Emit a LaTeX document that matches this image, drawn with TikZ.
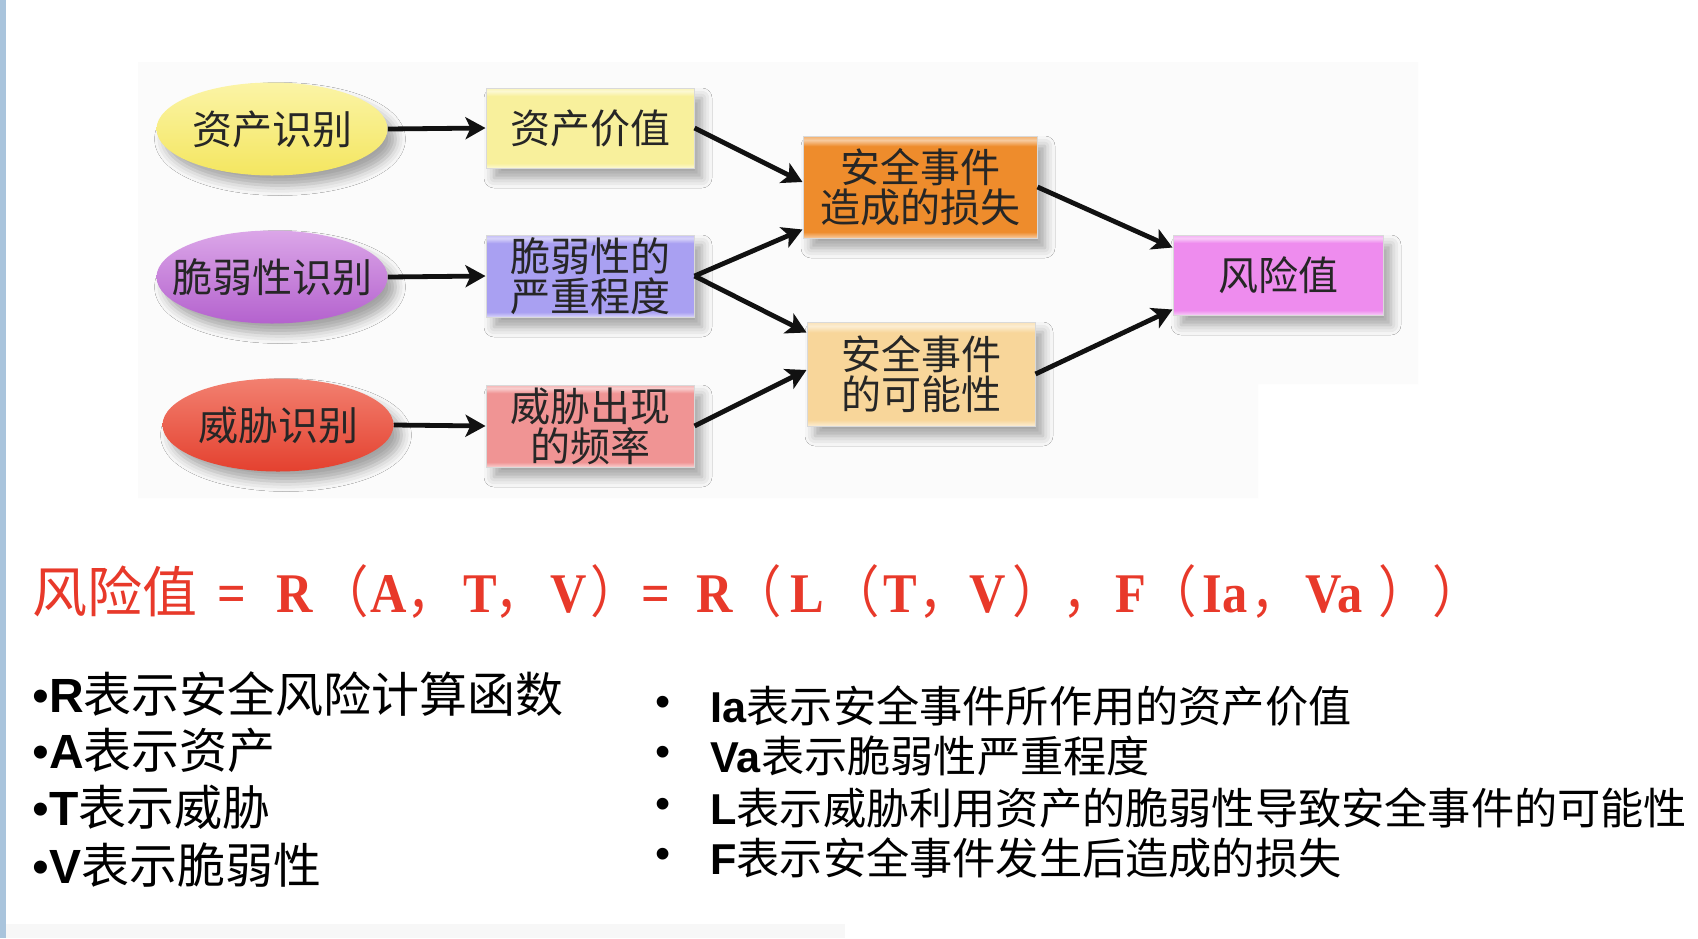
\documentclass[tikz,border=0pt]{standalone}
\usepackage{fontspec}
\setmainfont{Liberation Sans}
\newfontfamily\cjk{Noto Sans CJK SC}
\newfontfamily\tms{Liberation Serif}
\usetikzlibrary{shapes.geometric,arrows.meta,shadows.blur}

\definecolor{stripblue}{HTML}{A9C4DC}
\definecolor{diagbg}{HTML}{FBFBFB}
\definecolor{fred}{HTML}{E8392A}
\definecolor{nodetext}{HTML}{262626}
\definecolor{arrowc}{HTML}{111111}
\definecolor{yelT}{HTML}{FBF4A6}
\definecolor{yelM}{HTML}{F3E13A}
\definecolor{yelB}{HTML}{F4E660}
\definecolor{purT}{HTML}{DBA6E8}
\definecolor{purM}{HTML}{A846C2}
\definecolor{purB}{HTML}{B462CE}
\definecolor{redT}{HTML}{F28070}
\definecolor{redM}{HTML}{E2301F}
\definecolor{redB}{HTML}{E4412F}
\definecolor{cB1}{HTML}{F8F09C}
\definecolor{cB2}{HTML}{A9A0F2}
\definecolor{cB3}{HTML}{F09494}
\definecolor{cO1}{HTML}{EE8C2C}
\definecolor{cO2}{HTML}{F8D69A}
\definecolor{cP}{HTML}{EE8CEE}
\colorlet{bc}{white}

\pgfdeclareverticalshading[bc]{bandbox}{100bp}{color(0bp)=(bc!45!white); color(25bp)=(bc!45!white); color(28bp)=(bc); color(70bp)=(bc); color(73bp)=(bc!45!white); color(75bp)=(bc!70!white); color(100bp)=(bc!70!white)}

% formula token placed at an offset (pt) from the left of the formula
\newcommand{\ftok}[2]{\rlap{\hspace{#1pt}\scalebox{0.9}[1]{#2}}}
\newcommand{\fwp}[1]{{\cjk\mdseries #1}}

\tikzset{
  lbl/.style={font=\cjk\fontsize{20}{20}\selectfont, text=nodetext, align=center},
  softshadow/.style={blur shadow={shadow xshift=4pt, shadow yshift=-5pt, shadow blur radius=5pt, shadow opacity=35}},
  oval/.style={ellipse, lbl, minimum width=115.5pt, minimum height=46.5pt, inner sep=0pt, softshadow},
  boxn/.style={rectangle, lbl, inner sep=0pt, draw=black!15, line width=0.5pt, softshadow},
  bfill/.code={\colorlet{bc}{#1}\pgfkeysalso{shading=bandbox}},
  arr/.style={line width=2.4pt, draw=arrowc, -{Stealth[length=10pt,width=11pt,inset=2.5pt]}},
  listL/.style={anchor=west, inner sep=0pt, font=\fontsize{24}{24}\selectfont, text=black},
  listR/.style={anchor=west, inner sep=0pt, font=\fontsize{21.6}{21.6}\selectfont, text=black},
}

\begin{document}
\begin{tikzpicture}[x=0.5pt, y=-0.5pt]
\useasboundingbox (0,0) rectangle (1698,938);
\fill[white] (0,0) rectangle (1698,938);
\fill[stripblue] (0,0) rectangle (6,938);
\fill[diagbg] (138,62) -- (1418,62) -- (1418,384) -- (1258,384) -- (1258,498) -- (138,498) -- cycle;
\fill[black!3] (6,924) rectangle (845,938);

% ovals
\node[oval, top color=yelT, middle color=yelM, bottom color=yelB] (e1) at (272,129) {\makebox[0pt]{资产识别}};
\node[oval, top color=purT, middle color=purM, bottom color=purB] (e2) at (272,277) {\makebox[0pt]{脆弱性识别}};
\node[oval, top color=redT, middle color=redM, bottom color=redB] (e3) at (278,425) {\makebox[0pt]{威胁识别}};

% boxes
\node[boxn, bfill=cB1, minimum width=104pt, minimum height=40pt] (b1) at (590,128) {资产价值};
\node[boxn, bfill=cB2, minimum width=104pt, minimum height=41pt] (b2) at (590,276) {脆弱性的\\严重程度};
\node[boxn, bfill=cB3, minimum width=104pt, minimum height=41pt] (b3) at (590,426) {威胁出现\\的频率};
\node[boxn, bfill=cO1, minimum width=117pt, minimum height=51pt] (o1) at (920,187) {安全事件\\造成的损失};
\node[boxn, bfill=cO2, minimum width=114pt, minimum height=52pt] (o2) at (921,374) {安全事件\\的可能性};
\node[boxn, bfill=cP, minimum width=105pt, minimum height=40pt] (p) at (1278,275) {风险值};

% arrows
\draw[arr] (e1.east) -- (b1.west);
\draw[arr] (e2.east) -- (b2.west);
\draw[arr] (e3.east) -- (b3.west);
\draw[arr] (b1.east) -- ([yshift=2.5pt]o1.west);
\draw[arr] (b2.east) -- ([yshift=4.5pt]o1.south west);
\draw[arr] (b2.east) -- ([yshift=-5.5pt]o2.north west);
\draw[arr] (b3.east) -- ([yshift=2pt]o2.west);
\draw[arr] (o1.east) -- ([yshift=-6.5pt]p.north west);
\draw[arr] (o2.east) -- ([yshift=3pt]p.south west);

% formula
\node[anchor=base west, inner sep=0pt, text=fred] (formula) at (32,612) {\makebox[712pt][l]{%
\rlap{\cjk\fontsize{27.5}{27.5}\selectfont 风险值}%
\tms\bfseries\fontsize{28}{28}\selectfont
\ftok{92.5}{=}\ftok{122}{R}\ftok{143}{\fwp{（}}\ftok{169}{A}\ftok{187}{\fwp{，}}\ftok{215.5}{T}\ftok{231}{\fwp{，}}\ftok{259}{V}\ftok{279}{\fwp{）}}%
\ftok{304.5}{=}\ftok{332}{R}\ftok{349.5}{\fwp{（}}\ftok{379}{L}\ftok{398.5}{\fwp{（}}\ftok{425.5}{T}\ftok{443}{\fwp{，}}\ftok{468.5}{V}\ftok{490}{\fwp{）}}%
\ftok{515}{\fwp{，}}\ftok{541.5}{F}\ftok{557}{\fwp{（}}\ftok{585}{Ia}\ftok{609}{\fwp{，}}\ftok{636.5}{Va}\ftok{673}{\fwp{）}}\ftok{700}{\fwp{）}}}};

% left list
\node[listL] (l1) at (32,694) {•\textbf{R}{\cjk 表示安全风险计算函数}};
\node[listL] (l2) at (32,750) {•\textbf{A}{\cjk 表示资产}};
\node[listL] (l3) at (32,807) {•\textbf{T}{\cjk 表示威胁}};
\node[listL] (l4) at (32,865) {•\textbf{V}{\cjk 表示脆弱性}};

% right list
\node[listR] (rb1) at (655,706) {•};
\node[listR] (rb2) at (655,756) {•};
\node[listR] (rb3) at (655,808) {•};
\node[listR] (rb4) at (655,858) {•};
\node[listR] (r1) at (710,706) {\textbf{Ia}{\cjk 表示安全事件所作用的资产价值}};
\node[listR] (r2) at (710,756) {\textbf{Va}{\cjk 表示脆弱性严重程度}};
\node[listR] (r3) at (710,808) {\textbf{L}{\cjk 表示威胁利用资产的脆弱性导致安全事件的可能性}};
\node[listR] (r4) at (710,858) {\textbf{F}{\cjk 表示安全事件发生后造成的损失}};
\end{tikzpicture}
\end{document}
